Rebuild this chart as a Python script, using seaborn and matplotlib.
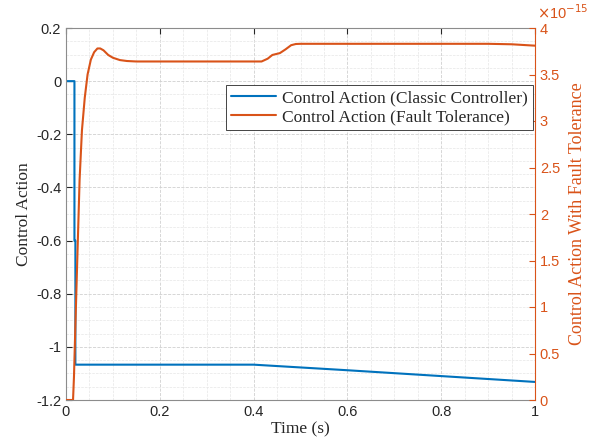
import numpy as np
import pandas as pd
import seaborn as sns
import matplotlib.pyplot as plt
from matplotlib.ticker import MultipleLocator, FuncFormatter

# classic controller (left axis)
t_classic = [0.0, 0.018, 0.018, 0.020, 0.020, 0.40, 0.60, 0.80, 1.00]
u_classic = [0.0, 0.0, -0.60, -0.60, -1.067, -1.067, -1.088, -1.110, -1.132]

# fault tolerant controller (right axis, in units of 1e-15)
t_fault = [0.0, 0.015, 0.017, 0.020, 0.024, 0.029, 0.034, 0.040, 0.046, 0.053,
           0.060, 0.067, 0.073, 0.080, 0.090, 0.100, 0.115, 0.130, 0.150, 0.20,
           0.30, 0.417, 0.43, 0.44, 0.456, 0.468, 0.48, 0.49, 0.50, 0.60,
           0.70, 0.80, 0.90, 0.95, 1.00]
u_fault = [0.0, 0.0, 0.25, 0.80, 1.50, 2.37, 2.90, 3.25, 3.50, 3.66,
           3.74, 3.78, 3.78, 3.76, 3.71, 3.68, 3.655, 3.645, 3.64, 3.64,
           3.64, 3.64, 3.67, 3.71, 3.73, 3.77, 3.815, 3.828, 3.83, 3.83,
           3.83, 3.83, 3.83, 3.825, 3.81]

blue = "#0072BD"
orange = "#D95319"

df1 = pd.DataFrame({"t": t_classic, "u": u_classic})
df2 = pd.DataFrame({"t": t_fault, "u": u_fault})

sns.set_style("white")
plt.rcParams["font.family"] = ["Liberation Sans", "DejaVu Sans"]

fig = plt.figure(figsize=(5.97, 4.47), dpi=100)
ax = fig.add_axes([66 / 597, 1 - 400 / 447, 469 / 597, 372 / 447])
ax2 = ax.twinx()

sns.lineplot(data=df1, x="t", y="u", ax=ax, color=blue, lw=1.5, estimator=None,
             label="Control Action (Classic Controller)", legend=False, sort=False)
sns.lineplot(data=df2, x="t", y="u", ax=ax2, color=orange, lw=1.5, estimator=None,
             label="Control Action (Fault Tolerance)", legend=False, sort=False)

ax.set_xlim(0, 1)
ax.set_ylim(-1.2, 0.2)
ax2.set_ylim(0, 4)

g = FuncFormatter(lambda v, p: f"{v:g}" if abs(v) > 1e-9 else "0")
ax.xaxis.set_major_locator(MultipleLocator(0.2))
ax.xaxis.set_minor_locator(MultipleLocator(0.05))
ax.yaxis.set_major_locator(MultipleLocator(0.2))
ax.yaxis.set_minor_locator(MultipleLocator(0.05))
ax.xaxis.set_major_formatter(g)
ax.yaxis.set_major_formatter(FuncFormatter(lambda v, p: f"{round(v, 1):g}" if abs(v) > 1e-9 else "0"))
ax2.yaxis.set_major_locator(MultipleLocator(0.5))
ax2.yaxis.set_major_formatter(g)

ax.grid(True, which="major", color="#d0d0d0", ls="--", lw=0.6)
ax.grid(True, which="minor", color="#e6e6e6", ls="--", lw=0.5)
ax.set_axisbelow(True)

ax.tick_params(axis="both", which="major", direction="in", length=4, labelsize=10.5,
               colors="#262626", top=True)
ax.tick_params(axis="both", which="minor", length=0)
ax2.tick_params(axis="y", direction="in", length=4, labelsize=10.5, colors=orange)

for s in ["left", "top", "bottom"]:
    ax.spines[s].set_color("#8c8c8c")
    ax2.spines[s].set_visible(False)
ax.spines["right"].set_visible(False)
ax2.spines["right"].set_color(orange)

serif = ["Liberation Serif", "DejaVu Serif"]
ax.set_xlabel("Time (s)", family=serif, fontsize=12.5, color="#262626", labelpad=2)
ax.set_ylabel("Control Action", family=serif, fontsize=12.5, color="#262626", labelpad=3)
ax2.set_ylabel("Control Action With Fault Tolerance", family=serif, fontsize=13,
               color=orange, labelpad=6)

fig.text(537 / 597, 1 - 22 / 447, r"$\times$10$^{-15}$", color=orange, fontsize=10.5,
         ha="left", va="bottom")

handles = ax.get_lines()[:1] + ax2.get_lines()[:1]
leg = ax2.legend(handles, [h.get_label() for h in handles],
                 loc="upper right", bbox_to_anchor=(0.9957, 0.847), borderaxespad=0,
                 prop={"family": serif, "size": 12.5}, frameon=True, fancybox=False,
                 edgecolor="#262626", framealpha=1, borderpad=0.3, labelspacing=0.15,
                 handlelength=2.6, handletextpad=0.35)
leg.get_frame().set_linewidth(0.6)

fig.savefig("out.png", dpi=100)
